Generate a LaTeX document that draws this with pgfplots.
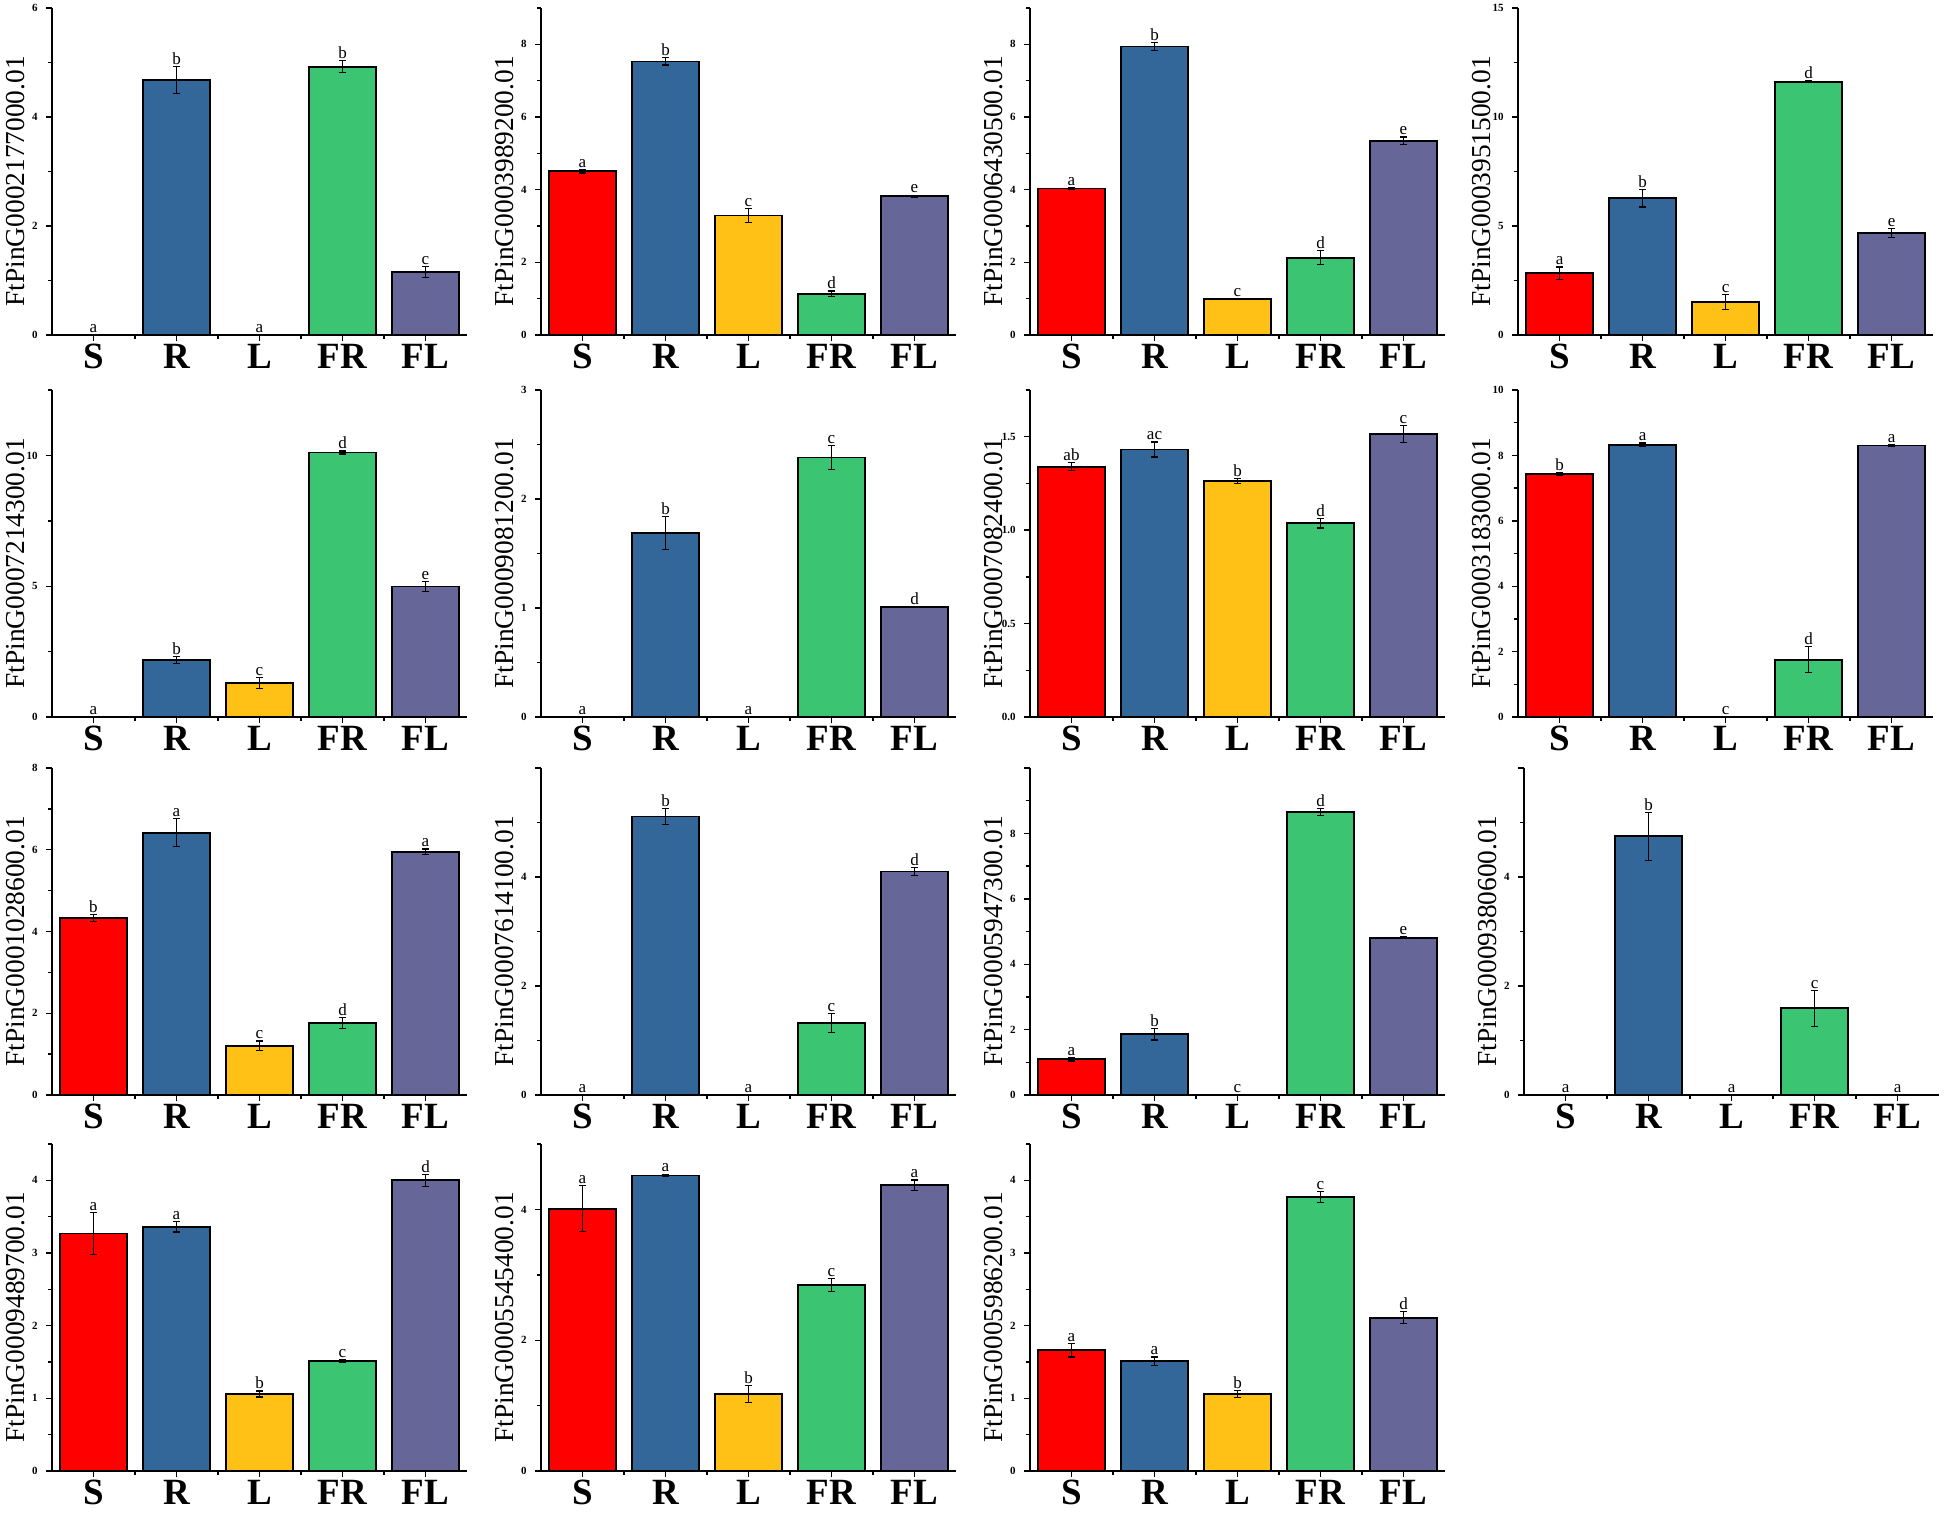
\documentclass[border=0pt]{standalone}
\usepackage{fontspec}
\setmainfont{Liberation Serif}
\usepackage{pgfplots}
\pgfplotsset{compat=1.18}

\definecolor{cS}{RGB}{255,0,0}
\definecolor{cR}{RGB}{51,103,153}
\definecolor{cL}{RGB}{255,193,22}
\definecolor{cFR}{RGB}{59,196,113}
\definecolor{cFL}{RGB}{102,102,153}

\pgfplotsset{
  panel/.style={
    scale only axis, width=207.5pt, height=163.5pt, anchor=south west,
    xmin=0.5, xmax=5.5, ymin=0, clip=false,
    axis lines=left, axis line style={-, line width=0.9pt, black},
    xtick={1,2,3,4,5}, xticklabels={S,R,L,FR,FL},
    minor xtick={1.5,2.5,3.5,4.5},
    minor y tick num=1,
    tick align=outside, major tick length=3pt, minor tick length=1.8pt,
    tick style={black, line width=0.7pt},
    xticklabel style={font=\fontsize{18.5}{18.5}\selectfont\bfseries, inner sep=0pt, yshift=-1.5pt},
    yticklabel style={font=\fontsize{5.5}{5.5}\selectfont\bfseries, inner sep=0pt, xshift=-4pt},
    /pgf/number format/assume math mode=true,
    ylabel style={at={(axis description cs:-0.088,0.47)}, anchor=center,
      font=\fontsize{13.7}{13.7}\selectfont},
    every node near coord/.append style={anchor=south, inner sep=0.8pt,
      font=\fontsize{8.5}{8.5}\selectfont, black},
  },
}

% x position, colour, mean, error, letter
\newcommand{\onebar}[5]{%
  \addplot[ybar, bar width=0.8, bar shift=0pt, fill=#2, draw=black, line width=0.9pt,
    error bars/.cd, y dir=both, y explicit,
    error bar style={line width=0.6pt, black},
    error mark options={rotate=90, mark size=1.8pt, line width=0.6pt, black}]
    coordinates {(#1,#3) +- (0,#4)};
  \pgfmathsetmacro\ytop{#3+#4}%
  \edef\tmp{\noexpand\addplot[draw=none, mark=none, nodes near coords,
    point meta=explicit symbolic] coordinates {(#1,\ytop) [#5]};}\tmp
}
% bar of height zero: letter only
\newcommand{\zbar}[2]{%
  \addplot[draw=none, mark=none, nodes near coords, point meta=explicit symbolic]
    coordinates {(#1,0) [#2]};
}

\begin{document}
\begin{tikzpicture}
\useasboundingbox (0,0) rectangle (973pt,-757pt);

% ---- row 1
\begin{axis}[panel, at={(26pt,-167.5pt)}, ymax=6, ytick distance=2, ylabel={FtPinG0002177000.01}]
  \zbar{1}{a}
  \onebar{2}{cR}{4.68}{0.25}{b}
  \zbar{3}{a}
  \onebar{4}{cFR}{4.92}{0.11}{b}
  \onebar{5}{cFL}{1.16}{0.10}{c}
\end{axis}
\begin{axis}[panel, at={(270.5pt,-167.5pt)}, ymax=9, ytick distance=2, ylabel={FtPinG0003989200.01}]
  \onebar{1}{cS}{4.51}{0.05}{a}
  \onebar{2}{cR}{7.53}{0.10}{b}
  \onebar{3}{cL}{3.29}{0.20}{c}
  \onebar{4}{cFR}{1.13}{0.08}{d}
  \onebar{5}{cFL}{3.82}{0.03}{e}
\end{axis}
\begin{axis}[panel, at={(515pt,-167.5pt)}, ymax=9, ytick distance=2, ylabel={FtPinG0006430500.01}]
  \onebar{1}{cS}{4.03}{0.02}{a}
  \onebar{2}{cR}{7.94}{0.10}{b}
  \onebar{3}{cL}{0.99}{0.02}{c}
  \onebar{4}{cFR}{2.13}{0.20}{d}
  \onebar{5}{cFL}{5.35}{0.10}{e}
\end{axis}
\begin{axis}[panel, at={(759pt,-167.5pt)}, ymax=15, ytick distance=5, ylabel={FtPinG0003951500.01}]
  \onebar{1}{cS}{2.84}{0.28}{a}
  \onebar{2}{cR}{6.27}{0.40}{b}
  \onebar{3}{cL}{1.51}{0.33}{c}
  \onebar{4}{cFR}{11.62}{0.03}{d}
  \onebar{5}{cFL}{4.68}{0.20}{e}
\end{axis}

% ---- row 2
\begin{axis}[panel, at={(26pt,-358.5pt)}, ymax=12.5, ytick distance=5, ylabel={FtPinG0007214300.01}]
  \zbar{1}{a}
  \onebar{2}{cR}{2.17}{0.13}{b}
  \onebar{3}{cL}{1.30}{0.20}{c}
  \onebar{4}{cFR}{10.11}{0.06}{d}
  \onebar{5}{cFL}{4.99}{0.20}{e}
\end{axis}
\begin{axis}[panel, at={(270.5pt,-358.5pt)}, ymax=3, ytick distance=1, ylabel={FtPinG0009081200.01}]
  \zbar{1}{a}
  \onebar{2}{cR}{1.69}{0.15}{b}
  \zbar{3}{a}
  \onebar{4}{cFR}{2.38}{0.11}{c}
  \onebar{5}{cFL}{1.01}{0.005}{d}
\end{axis}
\begin{axis}[panel, at={(515pt,-358.5pt)}, ymax=1.75, ytick distance=0.5, ylabel={FtPinG0007082400.01},
    yticklabel style={/pgf/number format/.cd, fixed, fixed zerofill, precision=1}]
  \onebar{1}{cS}{1.340}{0.022}{ab}
  \onebar{2}{cR}{1.432}{0.040}{ac}
  \onebar{3}{cL}{1.263}{0.015}{b}
  \onebar{4}{cFR}{1.037}{0.025}{d}
  \onebar{5}{cFL}{1.514}{0.045}{c}
\end{axis}
\begin{axis}[panel, at={(759pt,-358.5pt)}, ymax=10, ytick distance=2, ylabel={FtPinG0003183000.01}]
  \onebar{1}{cS}{7.43}{0.03}{b}
  \onebar{2}{cR}{8.33}{0.05}{a}
  \zbar{3}{c}
  \onebar{4}{cFR}{1.75}{0.40}{d}
  \onebar{5}{cFL}{8.30}{0.03}{a}
\end{axis}

% ---- row 3
\begin{axis}[panel, at={(26pt,-547.5pt)}, ymax=8, ytick distance=2, ylabel={FtPinG0001028600.01}]
  \onebar{1}{cS}{4.33}{0.08}{b}
  \onebar{2}{cR}{6.42}{0.34}{a}
  \onebar{3}{cL}{1.20}{0.12}{c}
  \onebar{4}{cFR}{1.76}{0.14}{d}
  \onebar{5}{cFL}{5.95}{0.07}{a}
\end{axis}
\begin{axis}[panel, at={(270.5pt,-547.5pt)}, ymax=6, ytick={0,2,4,6}, yticklabels={0,2,4,{}}, ylabel={FtPinG0007614100.01}]
  \zbar{1}{a}
  \onebar{2}{cR}{5.11}{0.15}{b}
  \zbar{3}{a}
  \onebar{4}{cFR}{1.32}{0.18}{c}
  \onebar{5}{cFL}{4.10}{0.07}{d}
\end{axis}
\begin{axis}[panel, at={(515pt,-547.5pt)}, ymax=10, ytick={0,2,4,6,8,10}, yticklabels={0,2,4,6,8,{}}, ylabel={FtPinG0005947300.01}]
  \onebar{1}{cS}{1.09}{0.05}{a}
  \onebar{2}{cR}{1.86}{0.18}{b}
  \zbar{3}{c}
  \onebar{4}{cFR}{8.66}{0.10}{d}
  \onebar{5}{cFL}{4.81}{0.02}{e}
\end{axis}
\begin{axis}[panel, at={(762pt,-547.5pt)}, ymax=6, ytick={0,2,4,6}, yticklabels={0,2,4,{}}, ylabel={FtPinG0009380600.01}]
  \zbar{1}{a}
  \onebar{2}{cR}{4.75}{0.44}{b}
  \zbar{3}{a}
  \onebar{4}{cFR}{1.59}{0.33}{c}
  \zbar{5}{a}
\end{axis}

% ---- row 4
\begin{axis}[panel, at={(26pt,-735.5pt)}, ymax=4.5, ytick distance=1, ylabel={FtPinG0009489700.01}]
  \onebar{1}{cS}{3.27}{0.29}{a}
  \onebar{2}{cR}{3.36}{0.07}{a}
  \onebar{3}{cL}{1.06}{0.04}{b}
  \onebar{4}{cFR}{1.51}{0.02}{c}
  \onebar{5}{cFL}{4.00}{0.08}{d}
\end{axis}
\begin{axis}[panel, at={(270.5pt,-735.5pt)}, ymax=5, ytick distance=2, ylabel={FtPinG0005545400.01}]
  \onebar{1}{cS}{4.01}{0.35}{a}
  \onebar{2}{cR}{4.52}{0.02}{a}
  \onebar{3}{cL}{1.18}{0.13}{b}
  \onebar{4}{cFR}{2.84}{0.10}{c}
  \onebar{5}{cFL}{4.37}{0.08}{a}
\end{axis}
\begin{axis}[panel, at={(515pt,-735.5pt)}, ymax=4.5, ytick distance=1, ylabel={FtPinG0005986200.01}]
  \onebar{1}{cS}{1.66}{0.09}{a}
  \onebar{2}{cR}{1.51}{0.06}{a}
  \onebar{3}{cL}{1.06}{0.05}{b}
  \onebar{4}{cFR}{3.77}{0.08}{c}
  \onebar{5}{cFL}{2.11}{0.08}{d}
\end{axis}
\end{tikzpicture}
\end{document}
